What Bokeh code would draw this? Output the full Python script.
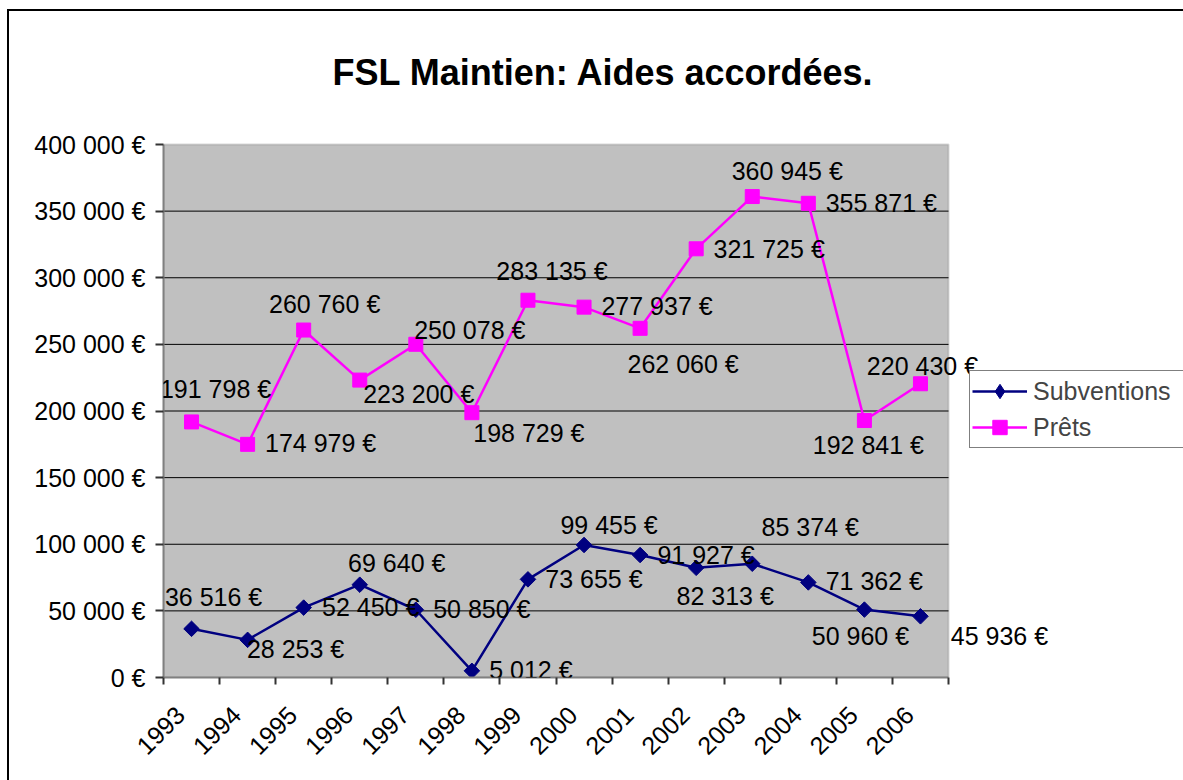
import numpy as np
from bokeh.plotting import figure
from bokeh.layouts import column, row
from bokeh.models import (ColumnDataSource, FixedTicker, Legend, LegendItem,
                          Range1d, LabelSet, Label, BoxAnnotation, Div,
                          GlobalInlineStyleSheet)
from bokeh.core.properties import value
from bokeh.embed import file_html
from bokeh.resources import INLINE

# ---------------- data ----------------
years = ["1993", "1994", "1995", "1996", "1997", "1998", "1999",
         "2000", "2001", "2002", "2003", "2004", "2005", "2006"]
subventions = [36516, 28253, 52450, 69640, 50850, 5012, 73655,
               99455, 91927, 82313, 85374, 71362, 50960, 45936]
prets = [191798, 174979, 260760, 223200, 250078, 198729, 283135,
         277937, 262060, 321725, 360945, 355871, 192841, 220430]
y_ticks = [0, 50000, 100000, 150000, 200000, 250000, 300000, 350000, 400000]
series_names = ["Subventions", "Prêts"]
title_text = "FSL Maintien: Aides accordées."

# label placement offsets in pixels (label centre relative to point, y down)
sub_dx = [22, 48, 67, 37, 66, 59, 66, 25, 66, 29, 58, 66, -4, 79]
sub_dy = [-32, 9, -1, -22, -1, -1, 0, -20, 0, 28, -37, -1, 26, 20]
pre_dx = [24, 73, 21, 59, 54, 57, 24, 73, 43, 73, 35, 73, 4, 2]
pre_dy = [-33, -1, -26, 14, -14, 20, -29, -1, 36, 0, -26, 0, 24, -18]

FONT = "Liberation Sans"
NAVY = "#000080"
MAG = "#FF00FF"

# ---------------- layout (pixels) ----------------
CANVAS_X, CANVAS_Y = 9, 11          # where the figure canvas sits on the page
BORDER = 2                          # outer chart border width
W, H = 1183 - CANVAS_X, 780 - CANVAS_Y
AREA_L, AREA_R, AREA_T, AREA_B = 163, 948, 144, 677   # grey plot area on page


def fmt(v):
    return f"{v:,}".replace(",", " ") + " €"


n = len(years)
y_max = y_ticks[-1]
xs = [i + 0.5 for i in range(n)]
# frame extends to the right and top edges of the canvas so that labels,
# legend and title outside the grey area are not clipped
units_per_px = n / (AREA_R - AREA_L)
x_end = (1183 - AREA_L) * units_per_px
y_end = y_max * (AREA_B - CANVAS_Y) / (AREA_B - AREA_T)

p = figure(width=W, height=H,
           x_range=Range1d(0, x_end), y_range=Range1d(0, y_end),
           output_backend="svg", toolbar_location=None,
           min_border_left=AREA_L - CANVAS_X, min_border_right=0,
           min_border_top=0, min_border_bottom=H - (AREA_B - CANVAS_Y))
p.margin = 0

p.background_fill_color = "white"
p.border_fill_color = "white"
p.outline_line_color = None
p.xgrid.visible = False
p.ygrid.visible = False

# grey plot area
p.add_layout(BoxAnnotation(left=0, right=n, bottom=0, top=y_max,
                           fill_color="#C0C0C0", fill_alpha=1,
                           line_color="#808080", line_width=2,
                           level="underlay"))

# horizontal gridlines
grid_vals = y_ticks[1:-1]
p.segment(x0=[0] * len(grid_vals), x1=[n] * len(grid_vals),
          y0=grid_vals, y1=grid_vals, line_color="black", line_width=1)

# y axis
p.yaxis.ticker = FixedTicker(ticks=y_ticks)
p.yaxis.bounds = (0, y_max)
p.yaxis.major_label_overrides = {t: fmt(t) for t in y_ticks}
p.yaxis.major_label_text_font = FONT
p.yaxis.major_label_text_font_size = "25px"
p.yaxis.major_label_text_color = "black"
p.yaxis.major_tick_out = 8
p.yaxis.major_tick_in = 0
p.yaxis.major_tick_line_color = "#333333"
p.yaxis.major_tick_line_width = 2
p.yaxis.minor_tick_line_color = None
p.yaxis.axis_line_color = "#808080"
p.yaxis.axis_line_width = 2
p.yaxis.major_label_standoff = 10

# x axis (labels anchored slightly left of centre, boundary ticks as minor ticks)
label_pos = [i + 0.3 for i in range(n)]
p.xaxis.ticker = FixedTicker(ticks=label_pos, minor_ticks=list(range(n + 1)))
p.xaxis.bounds = (0, n)
p.xaxis.major_label_overrides = {t: y for t, y in zip(label_pos, years)}
p.xaxis.major_label_orientation = np.pi / 4
p.xaxis.major_label_text_font = FONT
p.xaxis.major_label_text_font_size = "25px"
p.xaxis.major_label_text_color = "black"
p.xaxis.major_tick_line_color = None
p.xaxis.minor_tick_out = 7
p.xaxis.minor_tick_in = 0
p.xaxis.minor_tick_line_color = "#333333"
p.xaxis.minor_tick_line_width = 2
p.xaxis.axis_line_color = "#808080"
p.xaxis.axis_line_width = 2
p.xaxis.major_label_standoff = 26

src_s = ColumnDataSource(dict(x=xs, y=subventions,
                              text=[fmt(v) for v in subventions],
                              xo=sub_dx, yo=[-(d + 9) for d in sub_dy]))
src_p = ColumnDataSource(dict(x=xs, y=prets,
                              text=[fmt(v) for v in prets],
                              xo=pre_dx, yo=[-(d + 9) for d in pre_dy]))

l1 = p.line("x", "y", source=src_s, line_color=NAVY, line_width=2.5)
s1 = p.scatter("x", "y", source=src_s, marker="square", size=11, angle=np.pi / 4,
               fill_color=NAVY, line_color=NAVY)
l2 = p.line("x", "y", source=src_p, line_color=MAG, line_width=2.5)
s2 = p.scatter("x", "y", source=src_p, marker="square", size=14,
               fill_color=MAG, line_color=MAG)
# legend-only proxy so that the legend shows a diamond (legend ignores angle)
s1_key = p.scatter(x=[float("nan")], y=[float("nan")], marker="diamond", size=16,
                   fill_color=NAVY, line_color=NAVY)

# white strip along the far right edge of the canvas (hides an edge seam)
p.add_layout(BoxAnnotation(left=(1176 - AREA_L) * units_per_px,
                           fill_color="white", fill_alpha=1, line_color=None))

legend = Legend(items=[LegendItem(label=series_names[0], renderers=[l1, s1_key]),
                       LegendItem(label=series_names[1], renderers=[l2, s2])],
                location=(969 - AREA_L, AREA_B - 448))
legend.label_text_font = FONT
legend.label_text_font_size = "25px"
legend.border_line_color = "black"
legend.border_line_width = 1
legend.background_fill_color = "white"
legend.background_fill_alpha = 1
legend.padding = 2
legend.spacing = 0
legend.margin = 0
legend.glyph_width = 55
legend.glyph_height = 36
legend.label_height = 36
legend.label_width = 200
legend.label_standoff = 6
p.add_layout(legend)

for src in (src_s, src_p):
    p.add_layout(LabelSet(x="x", y="y", text="text", source=src,
                          x_offset="xo", y_offset="yo",
                          text_align="center", text_baseline="alphabetic",
                          text_font=value(FONT), text_font_size="25px",
                          text_color="black"))

# chart title (screen units relative to the frame's bottom-left corner)
p.add_layout(Label(x=603 - AREA_L, y=AREA_B - 72, x_units="screen", y_units="screen",
                   text=title_text, text_align="center", text_baseline="alphabetic",
                   text_font=FONT, text_font_size="36px", text_font_style="bold",
                   text_color="black"))

# black outer chart border (left and top) as two thin bars beside the figure
bar_style = {"background-color": "black"}
top_bar = Div(text="", width=W + BORDER, height=BORDER, margin=0, styles=bar_style)
left_bar = Div(text="", width=BORDER, height=H, margin=0, styles=bar_style)
root = column(top_bar, row(left_bar, p, spacing=0, margin=0),
              spacing=0, margin=(CANVAS_Y - BORDER, 0, 0, CANVAS_X - BORDER))
# the chart fills the window exactly: keep the page from showing scrollbars
root.stylesheets = [GlobalInlineStyleSheet(css="html, body { overflow: hidden !important; }")]

open("out.html", "w").write(file_html(root, INLINE))
